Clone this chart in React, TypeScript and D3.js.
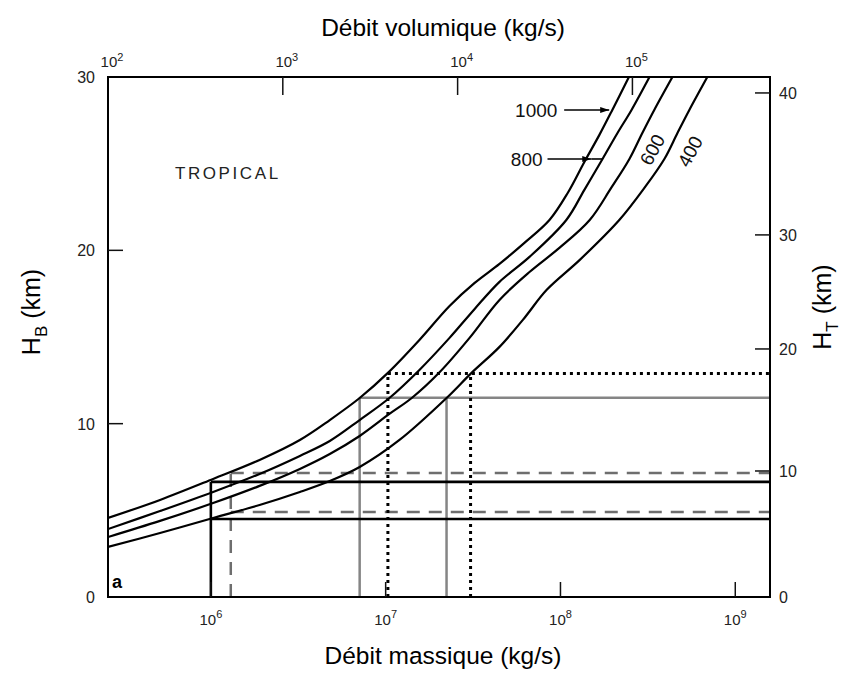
import { useEffect, useRef } from "react";
import * as d3 from "d3";

const W = 852;
const H = 673;

// curves, one per density label (kg/m3), mass flux (kg/s) vs H_B (km)
const curveNames = ["1000", "800", "600", "400"];

const mass1000 = [2.58e5, 5.12e5, 1.03e6, 1.9e6, 3.23e6, 4.79e6, 7.1e6, 1.03e7, 1.56e7, 2.32e7, 3.23e7, 4.48e7, 6.22e7, 8.65e7, 1.1e8, 1.37e8, 1.67e8, 1.98e8, 2.48e8];
const hb1000 = [4.56, 5.6, 6.81, 7.91, 9.06, 10.21, 11.48, 12.93, 14.83, 16.79, 18.12, 19.22, 20.43, 21.75, 23.31, 25.1, 26.66, 28.1, 30.06];

const mass800 = [2.58e5, 5.12e5, 1.03e6, 1.9e6, 3.23e6, 4.79e6, 7.1e6, 1.05e7, 1.56e7, 2.32e7, 3.23e7, 4.48e7, 6.65e7, 1.08e8, 1.37e8, 1.74e8, 2.12e8, 2.55e8, 3.23e8];
const hb800 = [3.92, 4.96, 6.06, 7.1, 8.14, 9.0, 10.21, 11.48, 13.1, 14.95, 16.62, 18.18, 19.62, 21.75, 23.49, 25.27, 26.77, 28.1, 30.0];

const mass600 = [2.58e5, 5.12e5, 1.03e6, 1.9e6, 3.23e6, 4.79e6, 7.1e6, 1.05e7, 1.41e7, 2.04e7, 3.02e7, 4.48e7, 6.65e7, 9.86e7, 1.47e8, 1.95e8, 2.48e8, 2.94e8, 3.44e8, 4.37e8];
const hb600 = [3.46, 4.39, 5.42, 6.41, 7.39, 8.25, 9.29, 10.56, 11.48, 12.98, 14.95, 17.14, 18.75, 20.14, 21.75, 23.6, 25.27, 26.77, 28.1, 30.0];

const mass400 = [2.58e5, 5.12e5, 1.03e6, 1.9e6, 3.23e6, 4.79e6, 7.1e6, 1.2e7, 2.23e7, 3.1e7, 4.48e7, 6.22e7, 8.32e7, 1.29e8, 2.17e8, 3.02e8, 3.93e8, 4.67e8, 5.46e8, 6.92e8];
const hb400 = [2.89, 3.69, 4.56, 5.31, 6.06, 6.69, 7.5, 9.06, 11.48, 12.93, 14.43, 16.1, 17.71, 19.45, 21.75, 23.6, 25.27, 26.77, 28.1, 30.0];

// reading lines drawn on the chart
const blackMass = [1.0e6];
const blackHb = [6.64, 4.5];
const dashedMass = [1.3e6];
const dashedHb = [7.15, 4.9];
const grayMass = [7.1e6, 2.23e7];
const grayHb = [11.5];
const dottedMass = [1.03e7, 3.06e7];
const dottedHb = [12.9];

// axes
const bottomTicks = [1e6, 1e7, 1e8, 1e9];
const topTicks = [1e2, 1e3, 1e4, 1e5];
const leftTicks = [0, 10, 20, 30];
const rightTicks = [0, 10, 20, 30, 40];
const rightTicksHb = [0, 7.27, 14.31, 20.89, 29.08];

export default function App() {
  const ref = useRef<SVGSVGElement>(null);

  useEffect(() => {
    if (!ref.current) return;
    const svg = d3.select(ref.current);
    svg.selectAll("*").remove();

    const margin = { top: 77, right: 82, bottom: 76, left: 108 };
    const x0 = margin.left;
    const x1 = W - margin.right;
    const y0 = H - margin.bottom;
    const y1 = margin.top;

    const x = d3.scaleLog().domain([2.58e5, 1.58e9]).range([x0, x1]);
    const xTop = d3.scaleLog().domain([1e2, 1e2 * (1.58e9 / 2.58e5)]).range([x0, x1]);
    const y = d3.scaleLinear().domain([0, 30]).range([y0, y1]);
    const yRight = d3
      .scaleLinear()
      .domain(rightTicks)
      .range(rightTicksHb.map((v) => y(v)));

    const font = "'Liberation Sans', Arial, sans-serif";

    svg.append("rect").attr("width", W).attr("height", H).attr("fill", "#fff");

    svg
      .append("defs")
      .append("clipPath")
      .attr("id", "plot")
      .append("rect")
      .attr("x", x0)
      .attr("y", y1)
      .attr("width", x1 - x0)
      .attr("height", y0 - y1);

    const g = svg.append("g").attr("clip-path", "url(#plot)");

    // reading lines
    const drawBox = (
      masses: number[],
      hbs: number[],
      stroke: string,
      width: number,
      dash: string | null
    ) => {
      const top = d3.max(hbs) as number;
      const left = d3.min(masses) as number;
      masses.forEach((m) => {
        g.append("line")
          .attr("x1", x(m))
          .attr("x2", x(m))
          .attr("y1", y(0))
          .attr("y2", y(top))
          .attr("stroke", stroke)
          .attr("stroke-width", width)
          .attr("stroke-dasharray", dash);
      });
      hbs.forEach((h) => {
        g.append("line")
          .attr("x1", x(left))
          .attr("x2", x1)
          .attr("y1", y(h))
          .attr("y2", y(h))
          .attr("stroke", stroke)
          .attr("stroke-width", width)
          .attr("stroke-dasharray", dash);
      });
    };

    drawBox(grayMass, grayHb, "#858585", 2.5, null);
    drawBox(dashedMass, dashedHb, "#6e6e6e", 2.5, "13,9");
    drawBox(blackMass, blackHb, "#000", 2.6, null);
    drawBox(dottedMass, dottedHb, "#000", 3, "3,4");

    // curves
    const series = [
      [mass1000, hb1000],
      [mass800, hb800],
      [mass600, hb600],
      [mass400, hb400],
    ];
    const line = d3
      .line<[number, number]>()
      .x((d) => x(d[0]))
      .y((d) => y(d[1]))
      .curve(d3.curveCatmullRom.alpha(0.5));

    series.forEach(([ms, hs]) => {
      g.append("path")
        .datum(ms.map((m, i) => [m, hs[i]] as [number, number]))
        .attr("fill", "none")
        .attr("stroke", "#000")
        .attr("stroke-width", 2.2)
        .attr("d", line);
    });

    // frame
    svg
      .append("rect")
      .attr("x", x0)
      .attr("y", y1)
      .attr("width", x1 - x0)
      .attr("height", y0 - y1)
      .attr("fill", "none")
      .attr("stroke", "#000")
      .attr("stroke-width", 2);

    const tickLen = 15;
    const tickStroke = "#111";

    // bottom axis
    bottomTicks.forEach((t) => {
      svg
        .append("line")
        .attr("x1", x(t))
        .attr("x2", x(t))
        .attr("y1", y0)
        .attr("y2", y0 - tickLen)
        .attr("stroke", tickStroke)
        .attr("stroke-width", 1.5);
      const tx = svg
        .append("text")
        .attr("x", x(t))
        .attr("y", y0 + 28)
        .attr("text-anchor", "middle")
        .attr("font-family", font)
        .attr("font-size", 15)
        .attr("fill", "#222");
      tx.append("tspan").text("10");
      tx.append("tspan")
        .attr("dy", -7)
        .attr("font-size", 11)
        .text(String(Math.round(Math.log10(t))));
    });

    // top axis
    topTicks.forEach((t, i) => {
      if (i > 0) {
        svg
          .append("line")
          .attr("x1", xTop(t))
          .attr("x2", xTop(t))
          .attr("y1", y1)
          .attr("y2", y1 + 18)
          .attr("stroke", tickStroke)
          .attr("stroke-width", 1.5);
      }
      const tx = svg
        .append("text")
        .attr("x", xTop(t) + 4)
        .attr("y", y1 - 10)
        .attr("text-anchor", "middle")
        .attr("font-family", font)
        .attr("font-size", 15)
        .attr("fill", "#222");
      tx.append("tspan").text("10");
      tx.append("tspan")
        .attr("dy", -6)
        .attr("font-size", 11)
        .text(String(Math.round(Math.log10(t))));
    });

    // left axis
    leftTicks.forEach((t) => {
      if (t > 0 && t < 30) {
        svg
          .append("line")
          .attr("x1", x0)
          .attr("x2", x0 + tickLen)
          .attr("y1", y(t))
          .attr("y2", y(t))
          .attr("stroke", tickStroke)
          .attr("stroke-width", 1.5);
      }
      svg
        .append("text")
        .attr("x", x0 - 13)
        .attr("y", y(t) + 6)
        .attr("text-anchor", "end")
        .attr("font-family", font)
        .attr("font-size", 16)
        .attr("fill", "#222")
        .text(t);
    });

    // right axis (H_T)
    rightTicks.forEach((t) => {
      if (t > 0) {
        svg
          .append("line")
          .attr("x1", x1)
          .attr("x2", x1 - tickLen)
          .attr("y1", yRight(t))
          .attr("y2", yRight(t))
          .attr("stroke", tickStroke)
          .attr("stroke-width", 1.5);
      }
      svg
        .append("text")
        .attr("x", x1 + 9)
        .attr("y", yRight(t) + 6)
        .attr("text-anchor", "start")
        .attr("font-family", font)
        .attr("font-size", 16)
        .attr("fill", "#222")
        .text(t);
    });

    // axis titles
    svg
      .append("text")
      .attr("x", 443)
      .attr("y", 36)
      .attr("text-anchor", "middle")
      .attr("font-family", font)
      .attr("font-size", 24.5)
      .text("Débit volumique (kg/s)");
    svg
      .append("text")
      .attr("x", 443)
      .attr("y", 664)
      .attr("text-anchor", "middle")
      .attr("font-family", font)
      .attr("font-size", 24.5)
      .text("Débit massique (kg/s)");

    const yTitle = (xp: number, yp: number, sub: string) => {
      const t = svg
        .append("text")
        .attr("transform", `translate(${xp},${yp}) rotate(-90)`)
        .attr("text-anchor", "middle")
        .attr("font-family", font)
        .attr("font-size", 25);
      t.append("tspan").text("H");
      t.append("tspan").attr("dy", 7).attr("font-size", 17).text(sub);
      t.append("tspan").attr("dy", -7).text(" (km)");
    };
    yTitle(40, 312, "B");
    yTitle(831, 307, "T");

    // annotations
    svg
      .append("text")
      .attr("x", x(6.23e5))
      .attr("y", y(24.1))
      .attr("font-family", font)
      .attr("font-size", 17)
      .attr("letter-spacing", 2.6)
      .attr("fill", "#222")
      .text("TROPICAL");

    svg
      .append("text")
      .attr("x", x(2.72e5))
      .attr("y", y(0.5))
      .attr("font-family", font)
      .attr("font-size", 18)
      .attr("font-weight", "bold")
      .text("a");

    const arrow = (label: string, textEnd: number, from: number, to: number, hb: number) => {
      svg
        .append("text")
        .attr("x", x(textEnd))
        .attr("y", y(hb) + 7)
        .attr("text-anchor", "end")
        .attr("font-family", font)
        .attr("font-size", 19)
        .attr("fill", "#111")
        .text(label);
      svg
        .append("line")
        .attr("x1", x(from))
        .attr("x2", x(to))
        .attr("y1", y(hb))
        .attr("y2", y(hb))
        .attr("stroke", "#000")
        .attr("stroke-width", 1.6);
      const tip = x(to);
      svg
        .append("path")
        .attr(
          "d",
          `M${tip},${y(hb)} L${tip - 9},${y(hb) - 3} L${tip - 9},${y(hb) + 3} Z`
        )
        .attr("fill", "#000");
    };
    arrow(curveNames[0], 9.6e7, 1.05e8, 1.9e8, 28.1);
    arrow(curveNames[1], 7.9e7, 8.43e7, 1.5e8, 25.27);
    svg
      .append("line")
      .attr("x1", x(1.5e8))
      .attr("x2", x(1.74e8))
      .attr("y1", y(25.27))
      .attr("y2", y(25.27))
      .attr("stroke", "#000")
      .attr("stroke-width", 1.6);

    const rotLabel = (label: string, m: number, hb: number) => {
      svg
        .append("text")
        .attr("transform", `translate(${x(m)},${y(hb)}) rotate(-62)`)
        .attr("text-anchor", "middle")
        .attr("dominant-baseline", "central")
        .attr("font-family", font)
        .attr("font-size", 19)
        .attr("fill", "#111")
        .text(label);
    };
    rotLabel(curveNames[2], 3.36e8, 25.8);
    rotLabel(curveNames[3], 5.53e8, 25.7);
  }, []);

  return (
    <svg
      ref={ref}
      width={W}
      height={H}
      style={{ position: "absolute", left: 0, top: 0, display: "block" }}
    />
  );
}
